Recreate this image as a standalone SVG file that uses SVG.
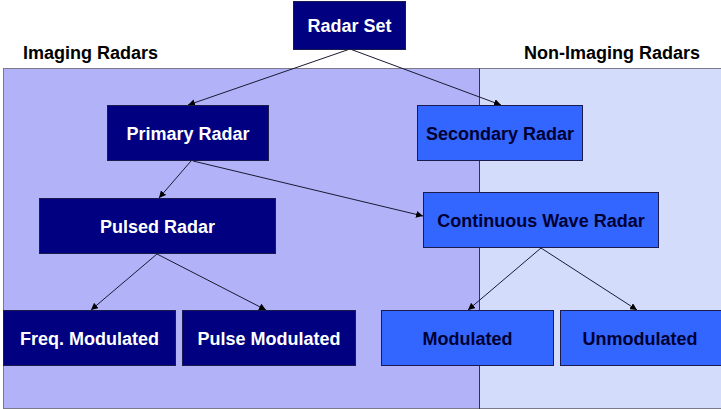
<svg xmlns="http://www.w3.org/2000/svg" width="721" height="409" viewBox="0 0 721 409">
<defs>
<style>
text{font-family:"Liberation Sans",Arial,sans-serif;font-weight:bold;font-size:18px;text-anchor:middle}
.dark rect{fill:#000080;stroke:#1a1a4d;stroke-width:1}
.dark text{fill:#ffffff}
.light rect{fill:#3366ff;stroke:#1a1a4d;stroke-width:1}
.light text{fill:#000033}
.hdr{fill:#000000;text-anchor:start}
.conn line{stroke:#1a1a33;stroke-width:1;marker-end:url(#ah)}
</style>
<marker id="ah" viewBox="0 0 10 10" refX="10" refY="5" markerWidth="7" markerHeight="7" markerUnits="userSpaceOnUse" orient="auto">
<path d="M0,0 L10,5 L0,10 z" fill="#000000"/>
</marker>
</defs>
<rect width="721" height="409" fill="#ffffff"/>
<g id="panels">
<rect x="3.5" y="68.5" width="476" height="340" fill="#b2b2f9"/>
<rect x="479.5" y="68.5" width="242" height="340" fill="#d3ddfb"/>
<rect x="3.5" y="68.5" width="718" height="340" fill="none" stroke="#7a7a8a" stroke-width="1"/>
<line x1="479.5" y1="68.5" x2="479.5" y2="409" stroke="#333344" stroke-width="1"/>
</g>
<text class="hdr" x="23" y="59">Imaging Radars</text>
<text class="hdr" x="524" y="59">Non-Imaging Radars</text>
<g class="conn" id="connectors">
<line x1="350" y1="49" x2="188" y2="105"/>
<line x1="350" y1="49" x2="501" y2="105"/>
<line x1="191" y1="161" x2="159" y2="198"/>
<line x1="193" y1="161" x2="423" y2="216"/>
<line x1="157" y1="254" x2="91" y2="310"/>
<line x1="157" y1="254" x2="266" y2="310"/>
<line x1="541" y1="248" x2="468" y2="310"/>
<line x1="541" y1="248" x2="637" y2="310"/>
</g>
<g id="radar-set" class="dark"><rect x="293.5" y="1.5" width="112" height="48"/><text x="349.5" y="32">Radar Set</text></g>
<g id="primary" class="dark"><rect x="107.5" y="105.5" width="161" height="55"/><text x="188" y="140">Primary Radar</text></g>
<g id="secondary" class="light"><rect x="417.5" y="105.5" width="165" height="55"/><text x="500" y="140">Secondary Radar</text></g>
<g id="pulsed" class="dark"><rect x="39.5" y="198.5" width="236" height="55"/><text x="157.5" y="233">Pulsed Radar</text></g>
<g id="cw" class="light"><rect x="423.5" y="192.5" width="235" height="55"/><text x="541" y="227">Continuous Wave Radar</text></g>
<g id="freq" class="dark"><rect x="3.5" y="310.5" width="172" height="55"/><text x="89.5" y="345">Freq. Modulated</text></g>
<g id="pulse-mod" class="dark"><rect x="182.5" y="310.5" width="173" height="55"/><text x="269" y="345">Pulse Modulated</text></g>
<g id="modulated" class="light"><rect x="381.5" y="310.5" width="172" height="55"/><text x="467.5" y="345">Modulated</text></g>
<g id="unmodulated" class="light"><rect x="560.5" y="310.5" width="162" height="55"/><text x="640" y="345">Unmodulated</text></g>
</svg>
